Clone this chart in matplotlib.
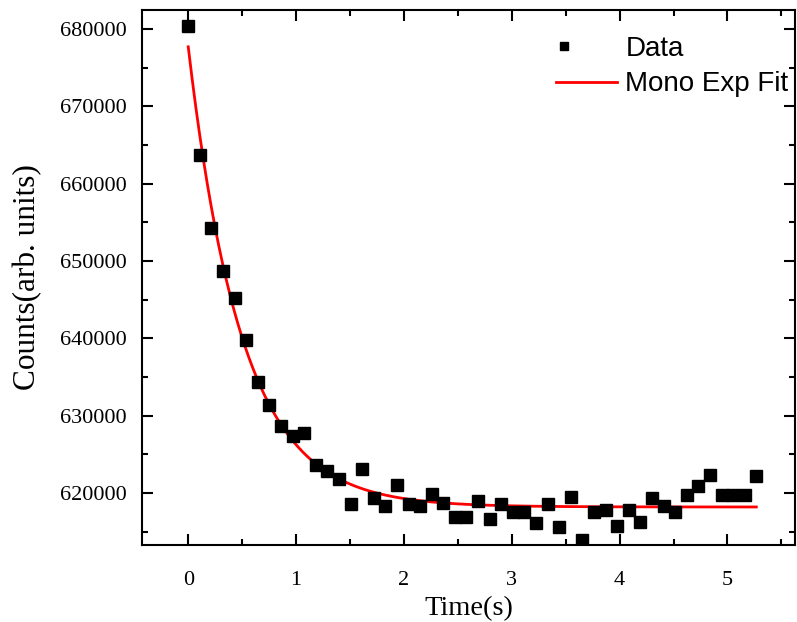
import numpy as np
import matplotlib.pyplot as plt
from matplotlib.ticker import MultipleLocator
from matplotlib.legend_handler import HandlerLine2DCompound

# data
step = 0.1075
counts = [680400, 663700, 654200, 648700, 645200, 639800, 634300, 631400, 628700, 627400,
          627800, 623600, 622800, 621800, 618600, 623100, 619400, 618300, 621000, 618600,
          618300, 619900, 618700, 616900, 616900, 619000, 616700, 618600, 617600, 617500,
          616100, 618600, 615600, 619500, 613900, 617600, 617800, 615700, 617800, 616200,
          619400, 618300, 617600, 619700, 620900, 622300, 619700, 619800, 619800, 622200]
time = np.arange(len(counts)) * step
counts = np.array(counts, dtype=float)

# mono exponential fit y0 + A*exp(-t/tau), tau by grid search
best = None
for tau in np.linspace(0.2, 1.5, 1301):
    X = np.column_stack([np.ones_like(time), np.exp(-time / tau)])
    coef, res, _, _ = np.linalg.lstsq(X, counts, rcond=None)
    r = np.sum((X @ coef - counts) ** 2)
    if best is None or r < best[0]:
        best = (r, tau, coef)
_, tau, (y0, A) = best
tfit = np.linspace(time[0], time[-1], 300)
yfit = y0 + A * np.exp(-tfit / tau)


class LeftMarker(HandlerLine2DCompound):
    # legend marker sits near the left of the handle box, like Origin
    def get_xdata(self, legend, xdescent, ydescent, width, height, fontsize):
        xdata, _ = super().get_xdata(legend, xdescent, ydescent, width, height, fontsize)
        return xdata, np.array([-xdescent + 0.13 * width])


serif = 'Liberation Serif'
fig = plt.figure(figsize=(7.97, 6.22), dpi=100)
ax = fig.add_axes([0.178, 0.124, 0.820, 0.860])

pts, = ax.plot(time, counts, 's', color='black', markersize=8, label='Data', zorder=3)
ax.plot(tfit, yfit, '-', color='red', lw=2, label='Mono Exp Fit', zorder=2)

ax.set_xlim(-0.43, 5.63)
ax.set_ylim(613300, 682450)
ax.xaxis.set_major_locator(MultipleLocator(1))
ax.xaxis.set_minor_locator(MultipleLocator(0.5))
ax.yaxis.set_major_locator(MultipleLocator(10000))
ax.yaxis.set_minor_locator(MultipleLocator(5000))
ax.tick_params(which='both', direction='in', top=True, right=True, width=1.5)
ax.tick_params(which='major', length=8, labelsize=16)
ax.tick_params(axis='x', which='major', pad=19)
ax.tick_params(axis='y', which='major', pad=11)
ax.tick_params(which='minor', length=4)
for lab in ax.get_xticklabels() + ax.get_yticklabels():
    lab.set_fontfamily(serif)
for s in ax.spines.values():
    s.set_linewidth(1.5)

ax.set_xlabel('Time(s)', fontsize=20.5, fontfamily=serif, labelpad=4.5)
ax.set_ylabel('Counts(arb. units)', fontsize=22.5, fontfamily=serif, labelpad=13)

ax.legend(loc='upper right', bbox_to_anchor=(1.0, 0.965), frameon=False,
          prop={'family': 'Liberation Sans', 'size': 20}, markerscale=0.8,
          handlelength=2.2, handletextpad=0.3, borderaxespad=0, borderpad=0.25,
          labelspacing=0.35, handler_map={pts: LeftMarker(numpoints=1)})

fig.savefig('out.png', dpi=100)
